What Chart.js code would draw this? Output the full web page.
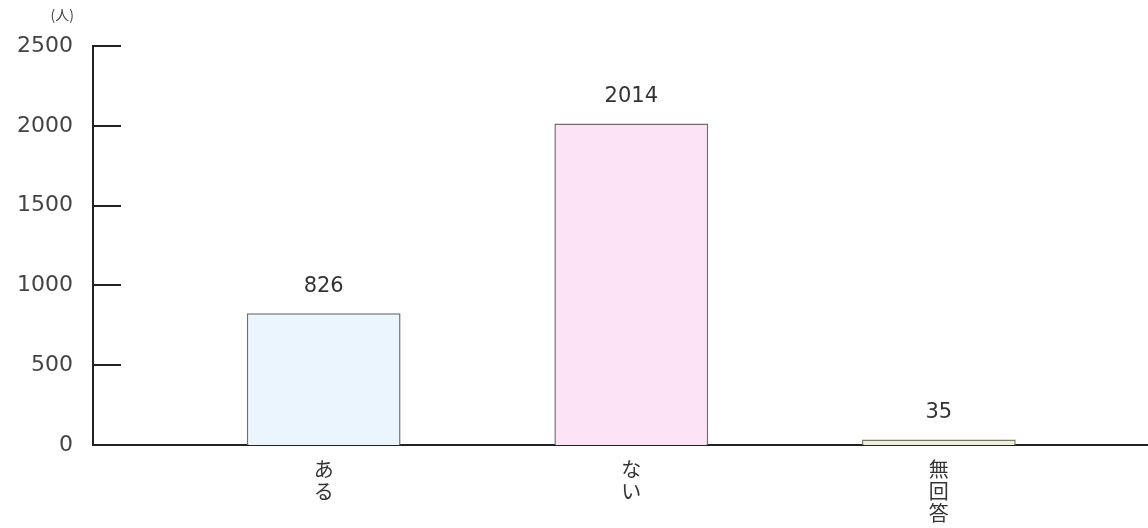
<!DOCTYPE html>
<html>
<head>
<meta charset="utf-8">
<script src="https://cdn.jsdelivr.net/npm/chart.js@4"></script>
<style>
  html, body { margin: 0; padding: 0; background: #fff; }
  #wrap { width: 1148px; height: 528px; }
</style>
</head>
<body>
<div id="wrap"><canvas id="chart" width="1148" height="528"></canvas></div>
<script>
// categories drawn one character per line (vertical text)
const categories = [["あ", "る"], ["な", "い"], ["無", "回", "答"]];
const counts = [826, 2014, 35];
const yTickValues = [0, 500, 1000, 1500, 2000, 2500];
const unitLabel = "(人)";

const barFills = ["#eaf5fd", "#fde3f6", "#eef0db"];
const barBorders = ["#6e6e6e", "#6e6e6e", "#7a7a6a"];

const numFont = "'DejaVu Sans', sans-serif";
const jpFont = "'Noto Sans CJK JP', sans-serif";

// tick marks drawn inside the plot, value labels above bars, unit label
const extras = {
  id: "extras",
  afterDraw(chart) {
    const ctx = chart.ctx;
    const y = chart.scales.y;
    ctx.save();
    ctx.strokeStyle = "#222";
    ctx.lineWidth = 2;
    y.ticks.forEach((t) => {
      if (t.value === 0) return;
      const py = Math.round(y.getPixelForValue(t.value));
      ctx.beginPath();
      ctx.moveTo(y.right, py);
      ctx.lineTo(y.right + 28, py);
      ctx.stroke();
    });

    ctx.fillStyle = "#333";
    ctx.font = "21px " + numFont;
    ctx.textAlign = "center";
    ctx.textBaseline = "middle";
    const meta = chart.getDatasetMeta(0);
    meta.data.forEach((bar, i) => {
      ctx.fillText(String(counts[i]), bar.x, bar.y - 27);
    });

    ctx.font = "14px " + jpFont;
    ctx.fillStyle = "#444";
    ctx.textAlign = "right";
    ctx.fillText(unitLabel, 74, 15);
    ctx.restore();
  }
};

new Chart(document.getElementById("chart"), {
  type: "bar",
  data: {
    datasets: [{
      data: counts.map((v, i) => ({ x: i, y: v })),
      backgroundColor: barFills,
      borderColor: barBorders,
      borderWidth: 1.5,
      categoryPercentage: 1,
      barPercentage: 0.5
    }]
  },
  options: {
    responsive: false,
    animation: false,
    layout: { padding: { top: 46, left: 0, right: 0, bottom: 0 } },
    plugins: {
      legend: { display: false },
      tooltip: { enabled: false }
    },
    scales: {
      x: {
        type: "linear",
        offset: false,
        min: -0.75,
        max: 2.68,
        afterBuildTicks: (scale) => {
          scale.ticks = categories.map((c, i) => ({ value: i }));
        },
        afterFit: (scale) => { scale.height = 83; },
        grid: { display: false, drawTicks: false },
        border: { display: true, color: "#222", width: 2 },
        ticks: {
          autoSkip: false,
          maxRotation: 0,
          padding: 13,
          color: "#333",
          font: { family: jpFont, size: 20, lineHeight: 1.1 },
          callback: (v) => categories[v]
        }
      },
      y: {
        min: 0,
        max: 2500,
        afterBuildTicks: (scale) => {
          scale.ticks = yTickValues.map((v) => ({ value: v }));
        },
        afterFit: (scale) => { scale.width = 93; },
        grid: { display: false, drawTicks: false },
        border: { display: true, color: "#222", width: 2 },
        ticks: {
          padding: 20,
          color: "#444",
          font: { family: numFont, size: 22 },
          callback: (v) => String(v)
        }
      }
    }
  },
  plugins: [extras]
});
</script>
</body>
</html>
